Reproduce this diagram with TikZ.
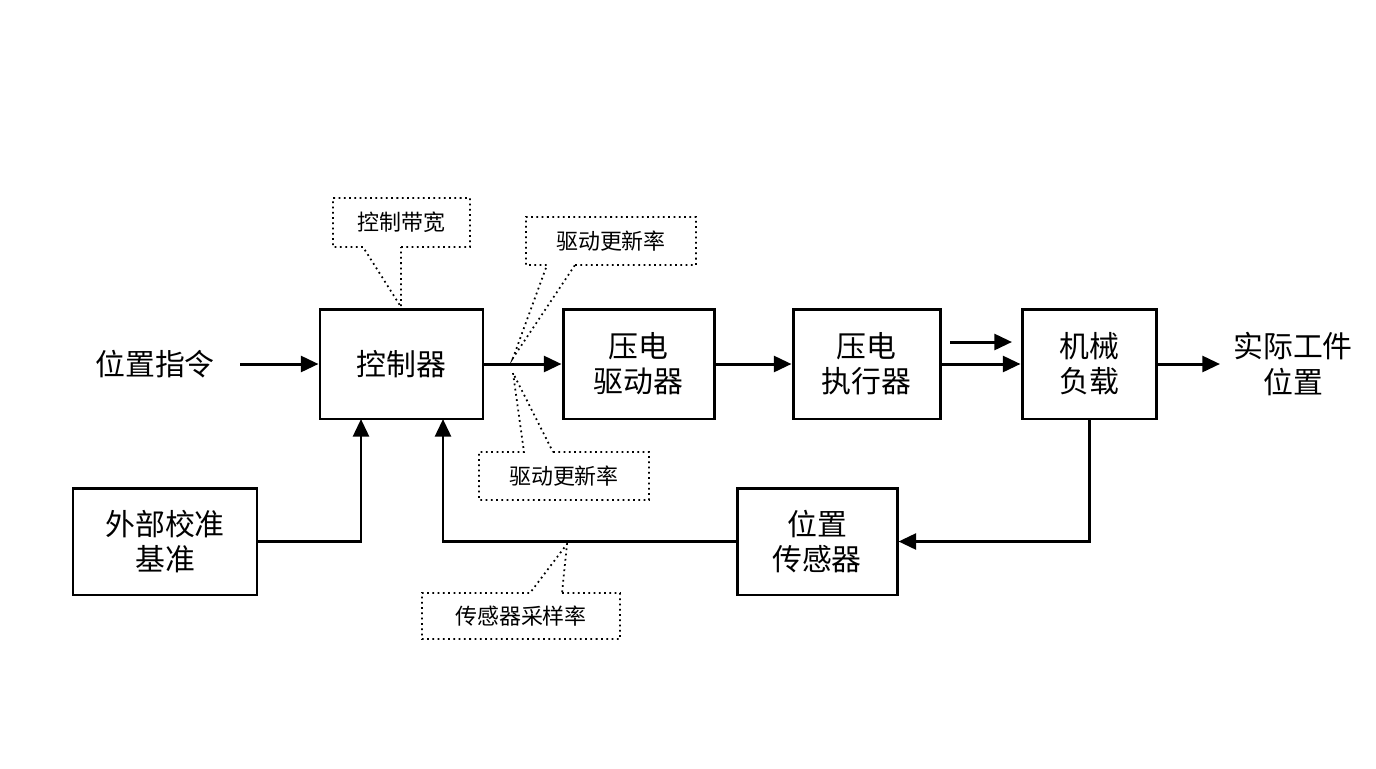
\documentclass[tikz,border=0pt]{standalone}
\usepackage{fontspec}
\setmainfont{Noto Sans CJK SC}
\usetikzlibrary{arrows.meta}
\begin{document}
\begin{tikzpicture}[x=0.02cm,y=-0.02cm,
  blk/.style={draw,line width=1.7pt,minimum width=#1*0.02cm,minimum height=2.2cm,align=center,font=\fontsize{17}{20}\selectfont,inner sep=0pt},
  blk2/.style={draw,line width=1.7pt,minimum width=#1*0.02cm,minimum height=2.14cm,align=center,font=\fontsize{17}{20}\selectfont,inner sep=0pt},
  ar/.style={line width=1.7pt,-{Triangle[length=10pt,width=9pt]}},
  co/.style={dotted,line width=1pt},
  lbl/.style={font=\fontsize{12.5}{15}\selectfont,inner sep=0pt}]
\useasboundingbox (0,0) rectangle (1376,768);
\node[blk=163] (ctrl) at (401.5,364) {控制器};
\node[blk=151] (drv) at (638.5,364) {压电\\驱动器};
\node[blk=147] (act) at (866.5,364) {压电\\执行器};
\node[blk=134] (load) at (1089,364) {机械\\负载};
\node[blk2=184] (ext) at (165,541.5) {外部校准\\基准};
\node[blk2=160] (sens) at (817,541.5) {位置\\传感器};
\node[font=\fontsize{17}{20}\selectfont] (cmd) at (155,364) {位置指令};
\node[font=\fontsize{17}{20}\selectfont,align=center] (out) at (1293,364) {实际工件\\位置};
\coordinate (cin) at (240,364);
\draw[ar] (cin) -- (ctrl);
\draw[ar] (ctrl) -- (drv);
\draw[ar] (drv) -- (act);
\draw[ar] (act) -- (load);
\coordinate (s1) at (950,342); \coordinate (s2) at (1012,342);
\draw[ar] (s1) -- (s2);
\coordinate (oend) at (1220,364);
\draw[ar] (load) -- (oend);
\draw[ar] (load.south) |- (sens.east);
\draw[ar] (sens.west) -| (443,419);
\draw[ar] (ext.east) -| (361,419);
% callouts
\draw[co] (401,247) -- (470,247) -- (470,198) -- (333,198) -- (333,247) -- (363,247) -- (401,307) -- cycle;
\node[lbl] (c1) at (401.5,222.5) {控制带宽};
\draw[co] (575,265) -- (696,265) -- (696,217) -- (526,217) -- (526,265) -- (547,265) -- (513,358) -- cycle;
\node[lbl] (c2) at (611,241) {驱动更新率};
\draw[co] (553,452) -- (649,452) -- (649,500) -- (479,500) -- (479,452) -- (524,452) -- (513,373) -- cycle;
\node[lbl] (c3) at (564,476) {驱动更新率};
\draw[co] (562,593) -- (620,593) -- (620,639) -- (422,639) -- (422,593) -- (530,593) -- (567,544) -- cycle;
\node[lbl] (c4) at (521,616) {传感器采样率};
\end{tikzpicture}
\end{document}
